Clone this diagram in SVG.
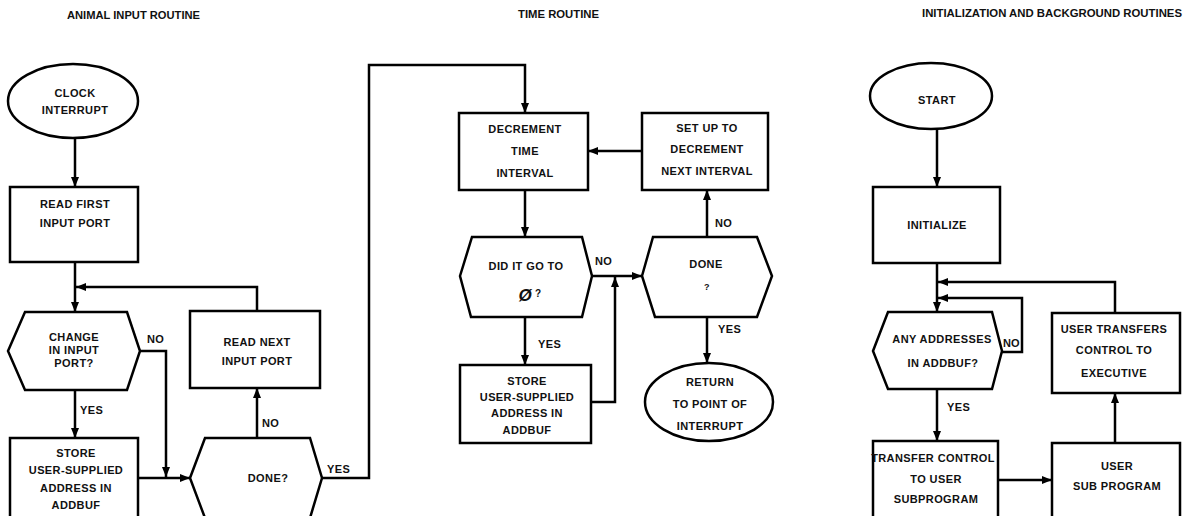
<svg xmlns="http://www.w3.org/2000/svg" width="1190" height="516" viewBox="0 0 1190 516">
<style>
.bg{fill:#fff}
.ln{fill:none;stroke:#000;stroke-width:2.5;stroke-linejoin:miter}
.sh{fill:#fff;stroke:#000;stroke-width:2.5}
.t{font-family:"Liberation Sans",Arial,sans-serif;font-size:11px;font-weight:bold;text-anchor:middle;letter-spacing:0.4px;fill:#111}
.lb{font-family:"Liberation Sans",Arial,sans-serif;font-size:11px;font-weight:bold;letter-spacing:0.4px;fill:#111}
.ti{font-family:"Liberation Sans",Arial,sans-serif;font-size:10px;font-weight:bold;fill:#111}
</style>
<defs>
<marker id="ah" markerUnits="userSpaceOnUse" markerWidth="11" markerHeight="8" refX="10" refY="4" orient="auto">
<path d="M0,0 L10,4 L0,8 z" fill="#000"/>
</marker>
</defs>
<rect class="bg" x="0" y="0" width="1190" height="516"/>

<g id="titles">
<text class="ti" x="67" y="19" textLength="133" lengthAdjust="spacingAndGlyphs">ANIMAL INPUT ROUTINE</text>
<text class="ti" x="518" y="18" textLength="81" lengthAdjust="spacingAndGlyphs">TIME ROUTINE</text>
<text class="ti" x="922" y="17" textLength="260" lengthAdjust="spacingAndGlyphs" style="font-weight:900">INITIALIZATION AND BACKGROUND ROUTINES</text>
</g>

<g id="connectors">
<!-- left -->
<path class="ln" d="M75,138 V187" marker-end="url(#ah)"/>
<path class="ln" d="M75,262 V312" marker-end="url(#ah)"/>
<path class="ln" d="M257,311 V287 H76" marker-end="url(#ah)"/>
<path class="ln" d="M140,351 H166 V477" marker-end="url(#ah)"/>
<path class="ln" d="M75,390 V438" marker-end="url(#ah)"/>
<path class="ln" d="M138,478 H190" marker-end="url(#ah)"/>
<path class="ln" d="M257,438 V388" marker-end="url(#ah)"/>
<path class="ln" d="M322,478 H369 V65 H525 V113" marker-end="url(#ah)"/>
<!-- middle -->
<path class="ln" d="M642,151 H588" marker-end="url(#ah)"/>
<path class="ln" d="M525,190 V237" marker-end="url(#ah)"/>
<path class="ln" d="M592,276 H642" marker-end="url(#ah)"/>
<path class="ln" d="M707,237 V190" marker-end="url(#ah)"/>
<path class="ln" d="M707,317 V363" marker-end="url(#ah)"/>
<path class="ln" d="M525,317 V365" marker-end="url(#ah)"/>
<path class="ln" d="M591,402 H615 V277" marker-end="url(#ah)"/>
<!-- right -->
<path class="ln" d="M937,128 V187" marker-end="url(#ah)"/>
<path class="ln" d="M937,263 V312" marker-end="url(#ah)"/>
<path class="ln" d="M1115,313 V282 H938" marker-end="url(#ah)"/>
<path class="ln" d="M1001,352 H1022 V298 H938" marker-end="url(#ah)"/>
<path class="ln" d="M937,389 V441" marker-end="url(#ah)"/>
<path class="ln" d="M998,480 H1052" marker-end="url(#ah)"/>
<path class="ln" d="M1115,443 V393" marker-end="url(#ah)"/>
</g>

<g id="labels">
<text class="lb" x="147" y="343">NO</text>
<text class="lb" x="80" y="414">YES</text>
<text class="lb" x="262" y="427">NO</text>
<text class="lb" x="327" y="473">YES</text>
<text class="lb" x="595" y="265">NO</text>
<text class="lb" x="715" y="227">NO</text>
<text class="lb" x="718" y="333">YES</text>
<text class="lb" x="538" y="348">YES</text>
<text class="lb" x="1003" y="347" style="letter-spacing:0">NO</text>
<text class="lb" x="947" y="411">YES</text>
</g>

<!-- left nodes -->
<g id="clock-interrupt">
<ellipse class="sh" cx="73" cy="101" rx="65" ry="37"/>
<text class="t" x="75" y="97">CLOCK</text>
<text class="t" x="75" y="114">INTERRUPT</text>
</g>
<g id="read-first">
<rect class="sh" x="10" y="187" width="128" height="75"/>
<text class="t" x="75" y="208">READ FIRST</text>
<text class="t" x="75" y="227">INPUT PORT</text>
</g>
<g id="change-input">
<polygon class="sh" points="8,351 25,312 127,312 140,351 127,390 25,390"/>
<text class="t" x="74" y="341">CHANGE</text>
<text class="t" x="74" y="354">IN INPUT</text>
<text class="t" x="74" y="367">PORT?</text>
</g>
<g id="store-left">
<rect class="sh" x="10" y="438" width="128" height="84"/>
<text class="t" x="76" y="457">STORE</text>
<text class="t" x="76" y="474">USER-SUPPLIED</text>
<text class="t" x="76" y="492">ADDRESS IN</text>
<text class="t" x="76" y="509">ADDBUF</text>
</g>
<g id="done-left">
<polygon class="sh" points="190,478 205,438 310,438 322,478 310,518 205,518"/>
<text class="t" x="268" y="482">DONE?</text>
</g>
<g id="read-next">
<rect class="sh" x="190" y="311" width="130" height="77"/>
<text class="t" x="257" y="346">READ NEXT</text>
<text class="t" x="257" y="365">INPUT PORT</text>
</g>

<!-- middle nodes -->
<g id="decrement">
<rect class="sh" x="459" y="113" width="129" height="77"/>
<text class="t" x="525" y="133">DECREMENT</text>
<text class="t" x="525" y="155">TIME</text>
<text class="t" x="525" y="177">INTERVAL</text>
</g>
<g id="set-up">
<rect class="sh" x="642" y="113" width="126" height="77"/>
<text class="t" x="707" y="132">SET UP TO</text>
<text class="t" x="707" y="153">DECREMENT</text>
<text class="t" x="707" y="175">NEXT INTERVAL</text>
</g>
<g id="did-it-go">
<polygon class="sh" points="460,276 472,237 582,237 592,276 582,317 471,317"/>
<text class="t" x="526" y="270">DID IT GO TO</text>
<text class="t" x="530" y="301"><tspan style="font-size:17px;font-style:italic">Ø</tspan><tspan dx="3" dy="-4" style="font-size:10px">?</tspan></text>
</g>
<g id="done-mid">
<polygon class="sh" points="642,276 653,237 757,237 772,276 757,317 655,317"/>
<text class="t" x="706" y="268">DONE</text>
<text class="t" x="707" y="290" style="font-size:9px">?</text>
</g>
<g id="store-mid">
<rect class="sh" x="460" y="365" width="131" height="78"/>
<text class="t" x="527" y="385">STORE</text>
<text class="t" x="527" y="401">USER-SUPPLIED</text>
<text class="t" x="527" y="417">ADDRESS IN</text>
<text class="t" x="527" y="434">ADDBUF</text>
</g>
<g id="return">
<ellipse class="sh" cx="709" cy="402" rx="64" ry="39"/>
<text class="t" x="710" y="386">RETURN</text>
<text class="t" x="710" y="408">TO POINT OF</text>
<text class="t" x="710" y="430">INTERRUPT</text>
</g>

<!-- right nodes -->
<g id="start">
<ellipse class="sh" cx="931" cy="96" rx="61" ry="33"/>
<text class="t" x="937" y="104">START</text>
</g>
<g id="initialize">
<rect class="sh" x="873" y="187" width="127" height="76"/>
<text class="t" x="937" y="229">INITIALIZE</text>
</g>
<g id="any-addresses">
<polygon class="sh" points="873,351 888,312 992,312 1002,351 992,389 888,389"/>
<text class="t" x="942" y="343">ANY ADDRESSES</text>
<text class="t" x="943" y="367">IN ADDBUF?</text>
</g>
<g id="transfer-control">
<rect class="sh" x="873" y="441" width="125" height="82"/>
<text class="t" x="933" y="462">TRANSFER CONTROL</text>
<text class="t" x="936" y="483">TO USER</text>
<text class="t" x="936" y="503">SUBPROGRAM</text>
</g>
<g id="user-sub-program">
<rect class="sh" x="1052" y="443" width="128" height="80"/>
<text class="t" x="1117" y="470">USER</text>
<text class="t" x="1117" y="490">SUB PROGRAM</text>
</g>
<g id="user-transfers">
<rect class="sh" x="1052" y="313" width="128" height="80"/>
<text class="t" x="1114" y="333">USER TRANSFERS</text>
<text class="t" x="1114" y="354">CONTROL TO</text>
<text class="t" x="1114" y="377">EXECUTIVE</text>
</g>
</svg>
